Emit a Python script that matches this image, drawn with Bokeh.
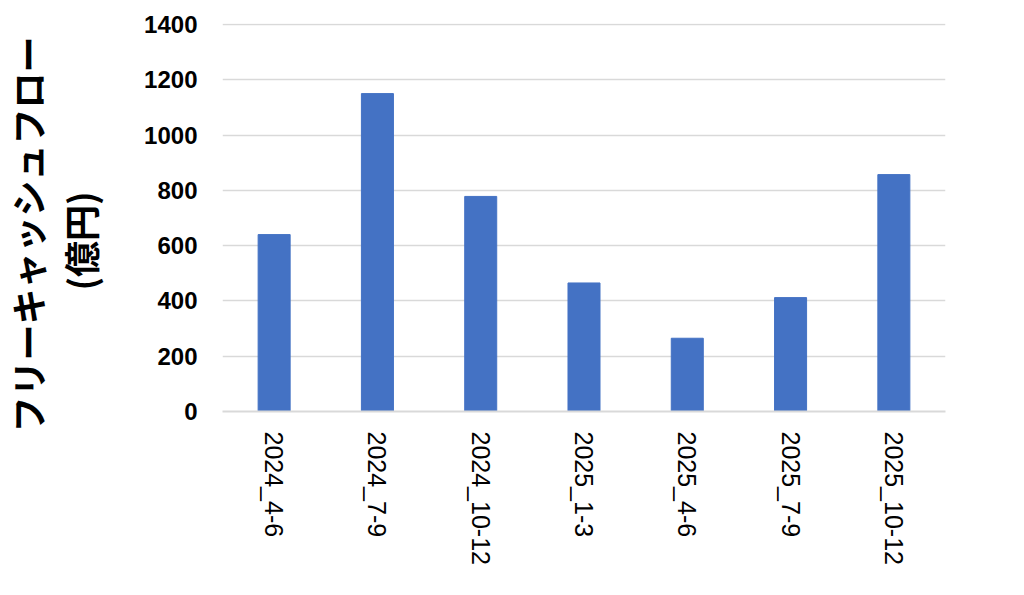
from bokeh.plotting import figure
from bokeh.models import FixedTicker, Range1d, Title
from bokeh.embed import file_html
from bokeh.resources import INLINE
import math

categories = ["2024_4-6", "2024_7-9", "2024_10-12", "2025_1-3", "2025_4-6", "2025_7-9", "2025_10-12"]
values = [640, 1150, 778, 465, 265, 412, 857]
y_ticks = [0, 200, 400, 600, 800, 1000, 1200, 1400]
title_lines = ["フリーキャッシュフロー", "(億円)"]

p = figure(x_range=categories, y_range=Range1d(0, 1403.6), width=1000, height=575,
           frame_width=723, frame_height=388,
           output_backend="svg", toolbar_location=None,
           min_border_left=222, min_border_right=55, min_border_top=23, min_border_bottom=164)
p.vbar(x=categories, top=values, width=0.31, color="#4472C4")

p.outline_line_color = None
p.background_fill_color = "white"
p.x_range.range_padding = 0
p.xgrid.grid_line_color = None
p.ygrid.grid_line_color = "#d9d9d9"
p.ygrid.grid_line_width = 1.5

p.yaxis.ticker = FixedTicker(ticks=y_ticks)
p.yaxis.axis_line_color = None
p.yaxis.major_tick_line_color = None
p.yaxis.minor_tick_line_color = None
p.yaxis.major_label_text_font = "Liberation Sans"
p.yaxis.major_label_text_font_style = "bold"
p.yaxis.major_label_text_font_size = "24px"
p.yaxis.major_label_text_color = "black"
p.yaxis.major_label_standoff = 19

# spacer between tick labels and the two-line title
p.add_layout(Title(text=" ", standoff=18, text_font_size="10px"), "left")
for txt, standoff, off in [(title_lines[1], 10, 121), (title_lines[0], -12, -21)]:
    p.add_layout(Title(text=txt, align="left", offset=off, standoff=standoff,
                       text_font="Noto Sans CJK JP", text_font_style="bold",
                       text_font_size="36px", text_color="black"), "left")

p.xaxis.axis_line_color = "#d9d9d9"
p.xaxis.axis_line_width = 2
p.xaxis.major_tick_line_color = None
p.xaxis.minor_tick_line_color = None
p.xaxis.major_label_orientation = -math.pi / 2
p.xaxis.major_label_text_font = "Liberation Sans"
p.xaxis.major_label_text_font_size = "25px"
p.xaxis.major_label_text_color = "black"
p.xaxis.major_label_standoff = 14

open("out.html", "w").write(file_html(p, INLINE))
